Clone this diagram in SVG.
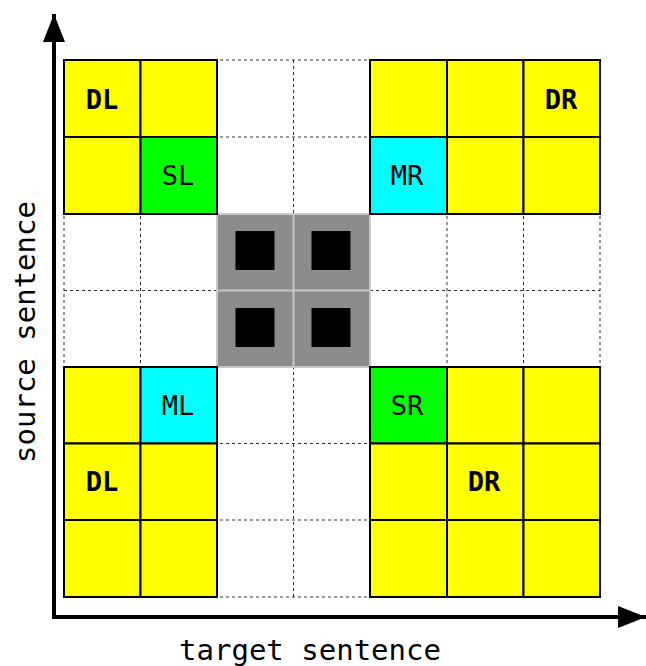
<svg xmlns="http://www.w3.org/2000/svg" width="646" height="666" viewBox="0 0 646 666">
<style>
.c{stroke:#000;stroke-width:2}
.y{fill:#ffff00}
.g{fill:#00ff00}
.b{fill:#00ffff}
.d{stroke:#333;stroke-width:1;stroke-dasharray:3 3;fill:none}
.lb{font-family:"DejaVu Sans Mono",monospace;font-size:27px;text-anchor:middle;fill:#000}
.bd{font-weight:bold}
.ax{font-family:"DejaVu Sans Mono",monospace;font-size:29px;text-anchor:middle;fill:#000}
</style>
<defs>
<marker id="ar" viewBox="0 0 14 11" refX="14" refY="5.5" markerWidth="7" markerHeight="5.5" markerUnits="strokeWidth" orient="auto">
<path d="M0,0 L14,5.5 L0,11 z" fill="#000"/>
</marker>
</defs>
<rect width="646" height="666" fill="#fff"/>
<g id="gridlines">
<path class="d" d="M64,60H600M64,137H600M64,214H600M64,290.5H600M64,367H600M64,443.5H600M64,520H600M64,597H600M64,60V597M140.5,60V597M217,60V597M293.5,60V597M370,60V597M447,60V597M523.5,60V597M600,60V597"/>
</g>
<g id="center">
<rect x="217" y="214" width="153" height="153" fill="#8c8c8c" stroke="#c8c8c8" stroke-width="2"/>
<path d="M293.5,214V367M217,290.5H370" stroke="#c8c8c8" stroke-width="2"/>
<rect x="235.5" y="231" width="39" height="39" fill="#000"/>
<rect x="311.5" y="231" width="39" height="39" fill="#000"/>
<rect x="235.5" y="308" width="39" height="39" fill="#000"/>
<rect x="311.5" y="308" width="39" height="39" fill="#000"/>
</g>
<g id="topleft">
<rect class="c y" x="64" y="60" width="76.5" height="77"/>
<rect class="c y" x="140.5" y="60" width="76.5" height="77"/>
<rect class="c y" x="64" y="137" width="76.5" height="77"/>
<rect class="c g" x="140.5" y="137" width="76.5" height="77"/>
<text class="lb bd" x="102" y="109">DL</text>
<text class="lb" x="178" y="185">SL</text>
</g>
<g id="topright">
<rect class="c y" x="370" y="60" width="77" height="77"/>
<rect class="c y" x="447" y="60" width="76.5" height="77"/>
<rect class="c y" x="523.5" y="60" width="76.5" height="77"/>
<rect class="c b" x="370" y="137" width="77" height="77"/>
<rect class="c y" x="447" y="137" width="76.5" height="77"/>
<rect class="c y" x="523.5" y="137" width="76.5" height="77"/>
<text class="lb bd" x="561" y="109">DR</text>
<text class="lb" x="407" y="185">MR</text>
</g>
<g id="bottomleft">
<rect class="c y" x="64" y="367" width="76.5" height="76.5"/>
<rect class="c b" x="140.5" y="367" width="76.5" height="76.5"/>
<rect class="c y" x="64" y="443.5" width="76.5" height="76.5"/>
<rect class="c y" x="140.5" y="443.5" width="76.5" height="76.5"/>
<rect class="c y" x="64" y="520" width="76.5" height="77"/>
<rect class="c y" x="140.5" y="520" width="76.5" height="77"/>
<text class="lb" x="178" y="415">ML</text>
<text class="lb bd" x="102" y="491">DL</text>
</g>
<g id="bottomright">
<rect class="c g" x="370" y="367" width="77" height="76.5"/>
<rect class="c y" x="447" y="367" width="76.5" height="76.5"/>
<rect class="c y" x="523.5" y="367" width="76.5" height="76.5"/>
<rect class="c y" x="370" y="443.5" width="77" height="76.5"/>
<rect class="c y" x="447" y="443.5" width="76.5" height="76.5"/>
<rect class="c y" x="523.5" y="443.5" width="76.5" height="76.5"/>
<rect class="c y" x="370" y="520" width="77" height="77"/>
<rect class="c y" x="447" y="520" width="76.5" height="77"/>
<rect class="c y" x="523.5" y="520" width="76.5" height="77"/>
<text class="lb" x="407" y="415">SR</text>
<text class="lb bd" x="484" y="491">DR</text>
</g>
<g id="axes">
<path d="M54,617V14" stroke="#000" stroke-width="4" fill="none" marker-end="url(#ar)"/>
<path d="M52,617H646" stroke="#000" stroke-width="4" fill="none" marker-end="url(#ar)"/>
</g>
<text class="ax" x="310" y="660">target sentence</text>
<text class="ax" transform="translate(35,332) rotate(-90)">source sentence</text>
</svg>
